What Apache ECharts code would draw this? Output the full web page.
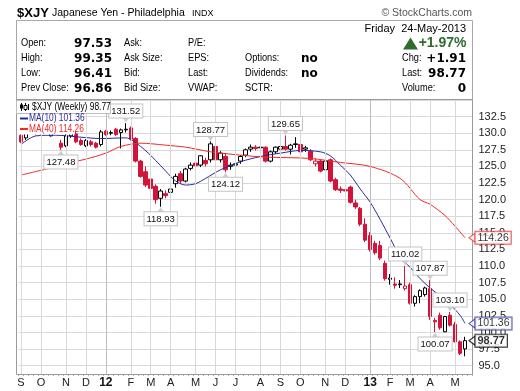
<!DOCTYPE html>
<html><head><meta charset="utf-8">
<script src="https://cdn.jsdelivr.net/npm/echarts@6/dist/echarts.min.js"></script>
<style>html,body{margin:0;padding:0;background:#fff}#c{width:520px;height:391px}</style>
</head><body><div id="c"></div>
<script>
// ---- categories: weekly bars (week starting Monday) ----
const dates = [
 '2011-09-05','2011-09-12','2011-09-19','2011-09-26','2011-10-03','2011-10-10','2011-10-17','2011-10-24','2011-10-31','2011-11-07',
 '2011-11-14','2011-11-21','2011-11-28','2011-12-05','2011-12-12','2011-12-19','2011-12-26','2012-01-02','2012-01-09','2012-01-16',
 '2012-01-23','2012-01-30','2012-02-06','2012-02-13','2012-02-20','2012-02-27','2012-03-05','2012-03-12','2012-03-19','2012-03-26',
 '2012-04-02','2012-04-09','2012-04-16','2012-04-23','2012-04-30','2012-05-07','2012-05-14','2012-05-21','2012-05-28','2012-06-04',
 '2012-06-11','2012-06-18','2012-06-25','2012-07-02','2012-07-09','2012-07-16','2012-07-23','2012-07-30','2012-08-06','2012-08-13',
 '2012-08-20','2012-08-27','2012-09-03','2012-09-10','2012-09-17','2012-09-24','2012-10-01','2012-10-08','2012-10-15','2012-10-22',
 '2012-10-29','2012-11-05','2012-11-12','2012-11-19','2012-11-26','2012-12-03','2012-12-10','2012-12-17','2012-12-24','2012-12-31',
 '2013-01-07','2013-01-14','2013-01-21','2013-01-28','2013-02-04','2013-02-11','2013-02-18','2013-02-25','2013-03-04','2013-03-11',
 '2013-03-18','2013-03-25','2013-04-01','2013-04-08','2013-04-15','2013-04-22','2013-04-29','2013-05-06','2013-05-13','2013-05-20',
 '2013-05-27'
];
// ---- OHLC values ----
const opens = [
 129.7,129.3,130.3,131.0,130.0,130.5,129.6,131.0,128.5,128.1,
 129.6,129.9,128.9,128.1,128.7,128.5,128.3,130.3,130.0,130.6,
 130.1,130.5,130.8,129.2,125.8,124.2,123.1,122.0,120.2,120.9,
 121.1,122.4,123.9,122.8,124.7,125.5,125.2,125.9,126.0,128.0,
 126.0,126.5,125.0,125.2,125.8,126.7,127.6,127.9,127.8,127.9,
 125.8,127.2,127.6,128.0,127.6,128.3,128.3,127.6,127.3,125.4,
 125.8,124.5,126.0,123.0,121.6,121.5,121.9,119.5,118.7,116.3,
 114.6,113.4,113.1,110.4,108.0,107.3,107.2,106.6,107.2,104.4,
 105.4,105.7,106.6,101.8,102.6,100.1,102.6,101.2,98.6,97.53
];
const highs = [
 130.3,130.6,131.2,131.3,130.8,130.9,131.2,131.4,129.0,130.0,
 130.6,130.2,129.2,129.1,129.0,128.7,130.5,130.5,130.4,130.8,
 130.7,131.52,131.0,129.4,126.0,125.0,123.6,122.3,121.6,121.4,
 122.0,123.9,124.3,124.8,125.6,125.9,126.7,126.3,128.77,128.3,
 127.3,127.0,125.6,125.8,126.7,127.7,128.3,128.2,128.1,128.0,
 127.4,128.0,128.3,129.65,128.4,129.4,128.6,128.1,127.6,126.2,
 126.0,126.8,126.2,123.3,122.0,121.9,122.1,120.0,118.9,117.2,
 115.1,113.8,113.8,110.8,108.8,108.3,107.9,110.02,107.5,105.6,
 106.5,106.9,107.87,102.2,103.0,102.5,103.10,101.6,98.8,99.35
];
const lows = [
 128.5,129.0,129.9,129.7,129.8,129.9,129.5,130.4,127.48,127.9,
 129.3,128.5,128.1,127.9,128.0,127.7,128.0,129.6,129.7,129.6,
 127.7,130.1,128.9,125.6,123.3,121.9,121.5,119.4,118.93,120.2,
 120.6,121.8,122.4,122.6,124.4,124.9,124.9,125.0,125.6,125.7,
 125.6,124.12,124.5,124.9,125.4,126.4,127.2,127.4,127.4,125.6,
 125.6,126.9,127.2,127.4,126.8,127.8,127.0,127.2,125.8,125.0,
 124.1,124.3,122.6,121.3,121.0,120.9,119.4,118.6,116.0,113.6,
 112.2,111.7,110.9,107.8,107.2,106.6,106.7,106.3,104.2,103.9,
 104.4,105.4,101.9,100.07,100.4,100.2,100.9,98.5,96.6,96.41
];
const closes = [
 128.7,130.3,131.0,130.0,130.5,130.1,131.0,130.7,127.9,129.6,
 130.3,128.7,128.3,128.9,128.3,127.9,130.2,129.8,130.1,129.8,
 130.5,130.6,129.1,125.8,123.5,122.2,121.7,120.0,121.3,120.6,
 121.6,123.5,122.8,124.6,125.2,125.1,126.6,125.4,128.4,126.0,
 127.0,124.5,125.2,125.4,126.5,127.5,127.9,127.7,127.9,125.8,
 127.2,127.9,128.0,127.6,128.2,128.4,127.2,127.8,126.0,125.8,
 124.3,125.8,122.8,121.5,121.4,121.3,119.6,118.9,116.3,113.9,
 112.5,112.0,111.2,108.1,108.2,107.1,107.3,107.0,104.4,105.4,
 106.3,106.7,102.4,101.6,100.7,102.4,101.1,98.6,96.86,98.77
];
// ---- moving averages read at points along the drawn curves: [bar index, value] ----
const ma10Points = [
 [0,128.3],[3,129.6],[7,129.7],[12,129.4],[16,129.2],[21,129.3],[24,128.0],[27,125.9],[29,124.3],[31,122.8],
 [33,122.2],[35,122.4],[37,123.2],[40,124.5],[44,125.7],[48,126.5],[52,127.0],[56,127.4],[60,127.2],[62,126.6],
 [64,125.2],[66,123.7],[68,121.6],[70,119.6],[72,117.0],[74,114.2],[76,111.4],[78,109.8],[80,108.1],[82,106.7],
 [84,105.5],[86,104.2],[88,102.6],[89,101.36]
];
const ma40Points = [
 [0,123.7],[5,124.6],[10,125.6],[13,126.1],[17,127.0],[20,128.0],[24,128.5],[29,128.2],[33,127.9],[38,127.2],
 [44,126.7],[49,126.4],[58,126.2],[64,125.6],[70,125.0],[76,123.2],[80,120.0],[82,119.3],[85,117.6],[87,116.0],
 [89,114.26]
];
// ---- labelled swing highs / lows (bar index, which side) ----
const annIndex = [21, 8, 28, 38, 41, 53, 77, 82, 86, 83];
const annSide  = ['high','low','low','high','low','high','high','high','high','low'];
// ---- axis ticks ----
const yMin = 93.75, yMax = 135, yStep = 1.25, yLabelStep = 2.5;
const monthLetters = ['J','F','M','A','M','J','J','A','S','O','N','D'];

const RED = '#d2143a', BLUE = '#2a2a9c', MARED = '#ee2a2a', GREEN = '#2f6c2f';
const SANS = '"Liberation Sans", Arial, sans-serif';
const BOLDV = '"DejaVu Sans", Verdana, sans-serif';

const monthStart = dates.map((d, i) => i === 0 || d.slice(5, 7) !== dates[i - 1].slice(5, 7));
monthStart[dates.length - 1] = false;

const candleData = opens.map((o, i) => {
  const c = closes[i];
  const prev = i === 0 ? o : closes[i - 1];
  const col = c < prev ? RED : '#000';
  const hollow = c > o;
  const fill = hollow ? '#fff' : col;
  return { value: [o, c, lows[i], highs[i]],
    itemStyle: { color: fill, color0: fill, borderColor: col, borderColor0: col, borderWidth: 1 } };
});

const annData = annIndex.map((idx, k) => {
  const hi = annSide[k] === 'high';
  const v = hi ? highs[idx] : lows[idx];
  return {
    coord: [dates[idx], v], value: v,
    symbol: hi ? 'path://M0,0 L10,0 L5,8 Z' : 'path://M5,0 L10,8 L0,8 Z',
    symbolSize: [7, 5], symbolOffset: [0, hi ? -3 : 3],
    itemStyle: { color: '#cfcfcf' },
    label: { show: true, position: hi ? 'top' : 'bottom', distance: 0,
      formatter: v.toFixed(2), color: '#111', fontSize: 9.5, fontFamily: SANS,
      backgroundColor: '#fff', borderColor: '#c4c4c4', borderWidth: 1, padding: [2, 2, 1, 2] }
  };
});

const lastIdx = closes.length - 1;
function tag(val, color, bold) {
  return {
    value: [dates[lastIdx], val],
    symbol: 'path://M0,5 L8,0 L8,10 Z', symbolSize: [6, 9], symbolOffset: [7, 0],
    itemStyle: { color: '#fff', borderColor: color, borderWidth: 1 },
    label: { show: true, position: 'right', distance: 0, formatter: val.toFixed(2),
      color: '#000', fontSize: bold ? 11 : 10.5, fontWeight: bold ? 'bold' : 'normal', fontFamily: SANS,
      backgroundColor: '#fff', borderColor: color, borderWidth: 1, padding: [1, 2, 0, 2] }
  };
}

function T(x, y, text, font, fill, align, sx) {
  return { type: 'text', x: x, y: y, z: 100, silent: true, scaleX: sx || 1,
    style: { text: text, font: font, fill: fill || '#000', textAlign: align || 'left', textVerticalAlign: 'middle',
      align: align || 'left', verticalAlign: 'middle' } };
}

const LBL = '10.5px ' + SANS;
const LSX = 0.88;
const VAL = 'bold 12px ' + BOLDV;
const rowsY = [43.5, 58.5, 73.5, 88.5];
const col1L = ['Open:', 'High:', 'Low:', 'Prev Close:'];
const col1V = ['97.53', '99.35', '96.41', '96.86'];
const col2L = ['Ask:', 'Ask Size:', 'Bid:', 'Bid Size:'];
const col3L = ['P/E:', 'EPS:', 'Last:', 'VWAP:'];
const col4L = ['', 'Options:', 'Dividends:', 'SCTR:'];
const col4V = ['', 'no', 'no', ''];
const col5L = ['', 'Chg:', 'Last:', 'Volume:'];
const col5V = ['', '+1.91', '98.77', '0'];

const g = [];
g.push({ type: 'rect', z: 99, silent: true, shape: { x: 16.5, y: 20.5, width: 456, height: 79 },
  style: { fill: '#fff', stroke: '#a8a8a8', lineWidth: 1 } });
g.push(T(17, 13, '$XJY', 'bold 13px ' + SANS));
g.push(T(52, 13, 'Japanese Yen - Philadelphia', '10.5px ' + SANS));
g.push(T(192, 13.5, 'INDX', '9px ' + SANS));
g.push(T(472, 13, '\u00A9 StockCharts.com', '10.5px ' + SANS, '#555', 'right'));
g.push(T(466, 28.5, 'Friday  24-May-2013', '11px ' + SANS, '#000', 'right'));
g.push({ type: 'polygon', z: 100, silent: true, shape: { points: [[403, 49.5], [410.5, 37.5], [418, 49.5]] }, style: { fill: GREEN } });
g.push(T(466.5, 43.5, '+1.97%', 'bold 14px ' + SANS, GREEN, 'right'));
rowsY.forEach((y, r) => {
  g.push(T(21, y, col1L[r], LBL, '#000', 'left', LSX));
  g.push(T(112, y, col1V[r], VAL, '#000', 'right'));
  g.push(T(124, y, col2L[r], LBL, '#000', 'left', LSX));
  g.push(T(188, y, col3L[r], LBL, '#000', 'left', LSX));
  if (col4L[r]) g.push(T(245, y, col4L[r], LBL, '#000', 'left', LSX));
  if (col4V[r]) g.push(T(301, y, col4V[r], VAL));
  if (col5L[r]) g.push(T(402, y, col5L[r], LBL, '#000', 'left', LSX));
  if (col5V[r]) g.push(T(466, y, col5V[r], VAL, '#000', 'right'));
});
// plot frame
g.push({ type: 'rect', z: 99, silent: true, shape: { x: 16.5, y: 99.5, width: 456, height: 275 },
  style: { fill: 'none', stroke: '#9a9a9a', lineWidth: 1 } });
// legend
g.push({ type: 'rect', z: 100, silent: true, shape: { x: 17, y: 113.5, width: 58, height: 21 }, style: { fill: '#fff' } });
g.push({ type: 'rect', z: 100, silent: true, shape: { x: 16.5, y: 100.5, width: 94, height: 13 },
  style: { fill: '#fff', stroke: '#bdbdbd', lineWidth: 1 } });
g.push({ type: 'line', z: 101, silent: true, shape: { x1: 21.5, y1: 103, x2: 21.5, y2: 111 }, style: { stroke: '#000' } });
g.push({ type: 'rect', z: 101, silent: true, shape: { x: 20, y: 104.5, width: 3, height: 4 }, style: { fill: '#000' } });
g.push({ type: 'line', z: 101, silent: true, shape: { x1: 25.5, y1: 103, x2: 25.5, y2: 111 }, style: { stroke: '#000' } });
g.push({ type: 'rect', z: 101, silent: true, shape: { x: 24, y: 105.5, width: 3, height: 4 }, style: { fill: '#fff', stroke: '#000' } });
g.push({ type: 'line', z: 101, silent: true, shape: { x1: 28.5, y1: 104, x2: 28.5, y2: 110 }, style: { stroke: '#000' } });
g.push(T(32, 107, '$XJY (Weekly) 98.77', '10.5px ' + SANS, '#000', 'left', 0.8));
g.push({ type: 'line', z: 101, silent: true, shape: { x1: 20, y1: 118.5, x2: 28, y2: 118.5 }, style: { stroke: BLUE, lineWidth: 2 } });
g.push(T(29, 118.5, 'MA(10) 101.36', '10.5px ' + SANS, BLUE, 'left', 0.8));
g.push({ type: 'line', z: 101, silent: true, shape: { x1: 20, y1: 129, x2: 28, y2: 129 }, style: { stroke: MARED, lineWidth: 2 } });
g.push(T(29, 129, 'MA(40) 114.26', '10.5px ' + SANS, MARED, 'left', 0.8));

const chart = echarts.init(document.getElementById('c'), null, { renderer: 'canvas' });
chart.setOption({
  animation: false,
  backgroundColor: '#fff',
  grid: { left: 18.5, right: 47.5, top: 100, bottom: 17, show: false },
  xAxis: {
    type: 'category', data: dates, boundaryGap: true,
    axisLine: { show: true, lineStyle: { color: '#9a9a9a' } },
    axisTick: { show: true, interval: 0, length: 2, lineStyle: { color: '#b0b0b0' } },
    splitLine: { show: false },
    axisLabel: {
      interval: (idx) => monthStart[idx], margin: 3, fontSize: 11, color: '#222', fontFamily: SANS,
      formatter: (val) => {
        const m = +val.slice(5, 7);
        return m === 1 ? '{b|' + val.slice(2, 4) + '}' : monthLetters[m - 1];
      },
      rich: { b: { fontWeight: 'bold', fontSize: 12, fontFamily: SANS, color: '#111' } }
    }
  },
  yAxis: {
    type: 'value', position: 'right', min: yMin, max: yMax, interval: yStep,
    axisLine: { show: true, lineStyle: { color: '#9a9a9a' } },
    axisTick: { show: false },
    axisLabel: { margin: 6, fontSize: 11, color: '#222', fontFamily: SANS,
      formatter: (v) => (Math.round(v * 100) % Math.round(yLabelStep * 100) === 0 && v < yMax - 0.5) ? v.toFixed(1) : '' },
    splitLine: { show: true, lineStyle: { color: ['rgba(0,0,0,0)', '#d9d9d9'], width: 1 } }
  },
  graphic: g,
  series: [
    { type: 'line', z: 1, data: [], silent: true,
      markLine: { silent: true, symbol: ['none', 'none'], label: { show: false }, animation: false,
        data: dates.map((d, i) => monthStart[i] ? { xAxis: d, lineStyle: { color: d.slice(5, 7) === '01' ? '#bdbdbd' : '#d9d9d9', width: 1, type: 'solid' } } : null).filter(Boolean) } },
    { type: 'candlestick', z: 3, barWidth: 4, data: candleData,
      markPoint: { silent: true, animation: false, data: annData } },
    { type: 'line', z: 4, data: ma10Points.map(p => [dates[p[0]], p[1]]), symbol: 'none', smooth: 0.3,
      lineStyle: { color: BLUE, width: 1 }, silent: true },
    { type: 'line', z: 4, data: ma40Points.map(p => [dates[p[0]], p[1]]), symbol: 'none', smooth: 0.3,
      lineStyle: { color: MARED, width: 1 }, silent: true },
    { type: 'scatter', zlevel: 1, z: 10, silent: true, clip: false,
      data: [tag(ma40Points[ma40Points.length - 1][1], MARED, false),
             tag(ma10Points[ma10Points.length - 1][1], BLUE, false),
             tag(closes[lastIdx], '#000', true)] }
  ]
});
</script>
</body></html>
